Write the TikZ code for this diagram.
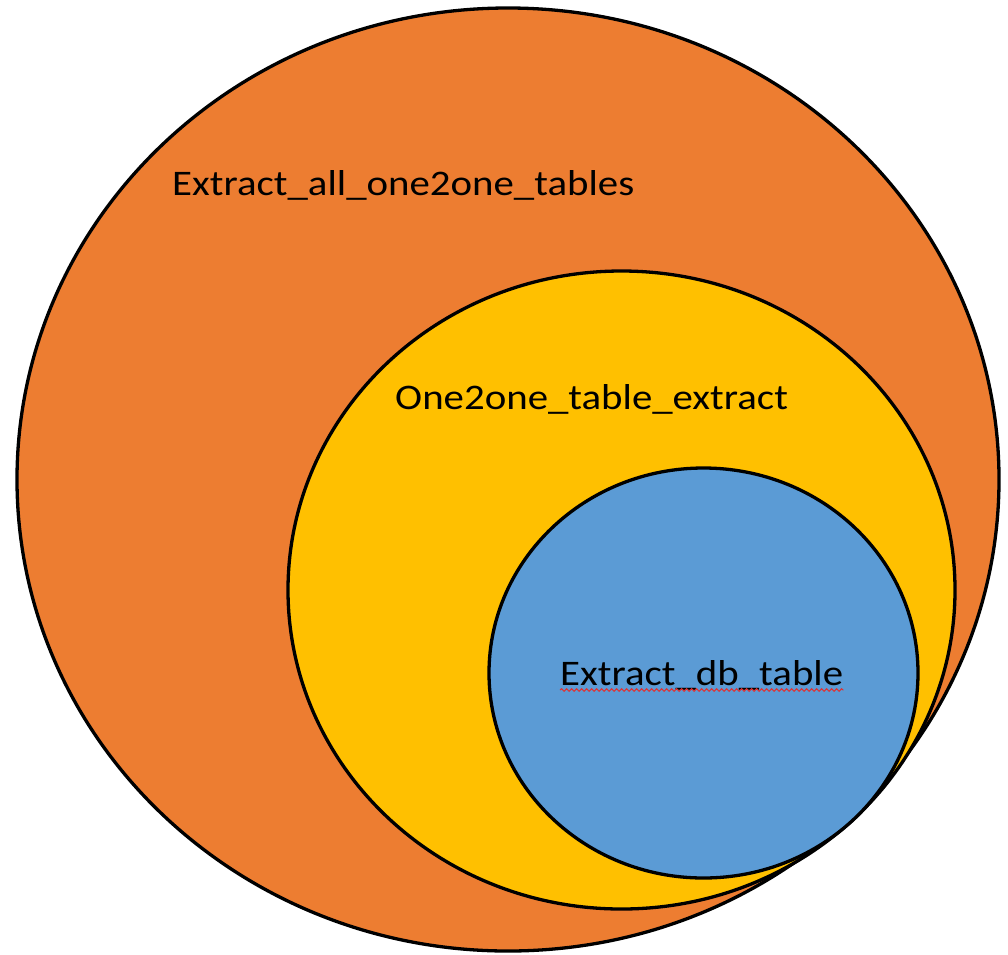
\documentclass[tikz,border=0pt]{standalone}
\usepackage{fontspec}
\setmainfont{Carlito}
\usetikzlibrary{decorations.pathmorphing}
\definecolor{outerc}{HTML}{ED7D31}
\definecolor{midc}{HTML}{FFC000}
\definecolor{innerc}{HTML}{5B9BD5}
\definecolor{spellred}{HTML}{E03030}
\newcommand{\wide}[1]{\scalebox{1.135}[1]{#1}}
\begin{document}
\begin{tikzpicture}[x=1pt,y=-1pt,
  blob/.style={draw=black,line width=3.3pt},
  lbl/.style={anchor=base west,inner sep=0pt,font=\fontsize{36}{40}\selectfont,text=black}]
\useasboundingbox (0,0) rectangle (1008,954);
\path[blob,fill=outerc] (508,479.5) ellipse [x radius=491,y radius=471.5];
\path[blob,fill=midc] (621.5,590) ellipse [x radius=333.5,y radius=319];
\path[blob,fill=innerc] (703.5,673) ellipse [x radius=214.5,y radius=205];
\node[lbl] (t1) at (172,195) {\wide{Extract\_all\_one2one\_tables}};
\node[lbl] (t2) at (395,409) {\wide{One2one\_table\_extract}};
\node[lbl] (t3) at (560,685) {\wide{Extract\_db\_table}};
\draw[spellred,line width=1pt,decorate,decoration={snake,amplitude=1.3pt,segment length=5pt}]
  ([yshift=-5pt]t3.base west) -- ([yshift=-5pt]t3.base east);
\end{tikzpicture}
\end{document}
